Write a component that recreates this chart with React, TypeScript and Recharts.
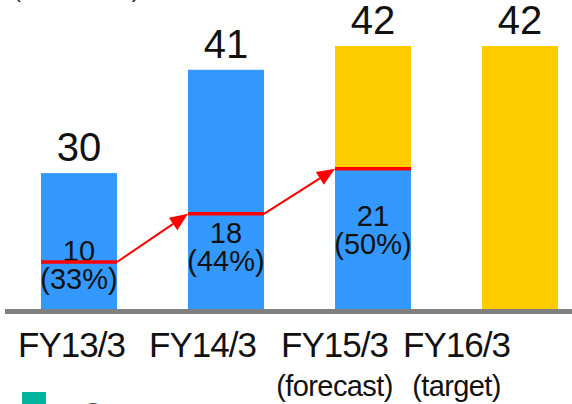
import React from 'react';
import { BarChart, Bar, XAxis, YAxis, Cell, LabelList } from 'recharts';

// ---- data ----
const categories = ['FY13/3', 'FY14/3', 'FY15/3', 'FY16/3'];
const subLabels = ['', '', '(forecast)', '(target)'];
const totalLabels = [30, 41, 42, 42];
const shareValues = [10, 18, 21, null];
const sharePercents = [33, 44, 50, null];
// drawn heights of the bars as they appear in the picture (the picture is not to scale)
const barHeights = [21.7, 38.2, 42, 42];
const shareHeights = [7.5, 15.2, 22.4, 0];

// ---- styles ----
const BLUE = '#3399FF';
const YELLOW = '#FFCC00';
const RED = '#FF0000';
const lowerColors = [BLUE, BLUE, BLUE, YELLOW];
const upperColors = [BLUE, BLUE, YELLOW, YELLOW];
const FONT = '"Liberation Sans", Arial, sans-serif';
const BAND = 147; // category band width in px (chart layout)
const tickShift = [-7, -23, -38, -63];
const innerLabelDy = [-25, -18, -13];

const data = categories.map((name, i) => ({
  name,
  idx: i,
  lower: shareHeights[i],
  upper: barHeights[i] - shareHeights[i],
}));

const UpperShape = (props: any) => {
  const { x, y, width, height, fill, payload } = props;
  const i: number = payload.idx;
  const segVal = barHeights[i] - shareHeights[i];
  const ppu = segVal > 0 ? height / segVal : 0;
  const base = y + height + shareHeights[i] * ppu;
  const shareTop = y + height;
  const parts: any[] = [<rect key="r" x={x} y={y} width={width} height={height} fill={fill} />];
  if (shareValues[i] != null) {
    const mid = base - (shareHeights[i] * ppu) / 2;
    const b1 = mid + innerLabelDy[i];
    const cx = x + width / 2;
    parts.push(
      <text key="t1" x={cx} y={b1} textAnchor="middle" fontSize={29} fontFamily={FONT} fill="#111">
        {shareValues[i]}
      </text>,
      <text key="t2" x={cx} y={b1 + 28} textAnchor="middle" fontSize={29} fontFamily={FONT} fill="#111">
        {`(${sharePercents[i]}%)`}
      </text>,
      <line key="l" x1={x} x2={x + width} y1={shareTop} y2={shareTop} stroke={RED} strokeWidth={3.5} />
    );
    if (i > 0 && shareValues[i - 1] != null) {
      const x1 = x - (BAND - width);
      const y1 = base - shareHeights[i - 1] * ppu;
      const x2 = x;
      const y2 = shareTop;
      const ang = Math.atan2(y2 - y1, x2 - x1);
      const L = 18;
      const W = 7.5;
      const bx = x2 - L * Math.cos(ang);
      const by = y2 - L * Math.sin(ang);
      const px = -Math.sin(ang) * W;
      const py = Math.cos(ang) * W;
      parts.push(
        <line key="a" x1={x1} y1={y1} x2={bx} y2={by} stroke={RED} strokeWidth={2} />,
        <polygon key="h" points={`${x2},${y2} ${bx + px},${by + py} ${bx - px},${by - py}`} fill={RED} />
      );
    }
  }
  return <g>{parts}</g>;
};

const TopLabel = (props: any) => {
  const { x, y, width, index } = props;
  return (
    <text x={x + width / 2} y={y - 12} textAnchor="middle" fontSize={40} fontFamily={FONT} fill="#111">
      {totalLabels[index]}
    </text>
  );
};

const Tick = (props: any) => {
  const { x, y, payload } = props;
  const i = categories.indexOf(payload.value);
  const cx = x + tickShift[i];
  return (
    <g>
      <text x={cx} y={y + 48} textAnchor="middle" fontSize={35} letterSpacing={-1} fontFamily={FONT} fill="#111">
        {payload.value}
      </text>
      {subLabels[i] ? (
        <text x={cx} y={y + 87} textAnchor="middle" fontSize={29} letterSpacing={-0.6} fontFamily={FONT} fill="#111">
          {subLabels[i]}
        </text>
      ) : null}
    </g>
  );
};

export default function App() {
  return (
    <div style={{ position: 'absolute', left: 0, top: 0, width: 572, height: 404, overflow: 'hidden', background: '#fff' }}>
      <BarChart width={600} height={404} data={data} margin={{ top: 46, right: 7, bottom: 5, left: 5 }} barSize={76}>
        <XAxis
          dataKey="name"
          height={90}
          tickLine={false}
          tickSize={0}
          tickMargin={0}
          interval={0}
          tick={<Tick />}
          axisLine={{ stroke: '#808080', strokeWidth: 5, transform: 'translate(0 2.5)' } as any}
        />
        <YAxis hide domain={[0, 42]} />
        <Bar dataKey="lower" stackId="s" isAnimationActive={false}>
          {data.map((d, i) => (
            <Cell key={i} fill={lowerColors[i]} />
          ))}
        </Bar>
        <Bar dataKey="upper" stackId="s" isAnimationActive={false} shape={<UpperShape />}>
          {data.map((d, i) => (
            <Cell key={i} fill={upperColors[i]} />
          ))}
          <LabelList dataKey="upper" content={<TopLabel />} />
        </Bar>
      </BarChart>
      <svg width={572} height={404} style={{ position: 'absolute', left: 0, top: 0, pointerEvents: 'none' }}>
        <text x={13} y={-3} fontSize={24} fontFamily={FONT} fill="#222">(Billion Yen)</text>
        <rect x={22} y={392} width={24} height={20} fill="#00B4A0" />
        <text x={82} y={422} fontSize={28} fontFamily={FONT} fill="#444">Overseas</text>
      </svg>
    </div>
  );
}
